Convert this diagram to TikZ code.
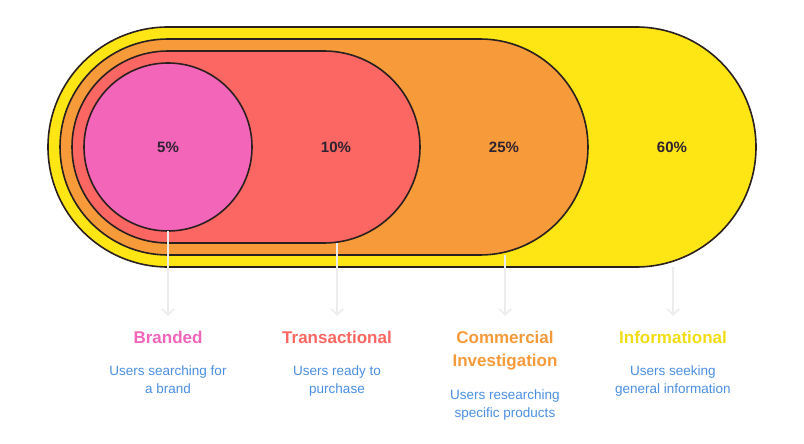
\documentclass[tikz,border=0pt]{standalone}
\usepackage{fontspec}
\setmainfont{Liberation Sans}
\usetikzlibrary{arrows.meta}
\definecolor{cy}{HTML}{FDE614}
\definecolor{co}{HTML}{F79A3A}
\definecolor{cr}{HTML}{FC6763}
\definecolor{cp}{HTML}{F265B9}
\definecolor{tdark}{HTML}{2E2230}
\definecolor{tblue}{HTML}{4A8FE2}
\definecolor{tyel}{HTML}{F2DC12}
\definecolor{ln}{HTML}{2B2020}
\begin{document}
\begin{tikzpicture}[x=1pt,y=-1pt,
  band/.style={draw=ln,line width=1.6pt,inner sep=0pt,outer sep=0pt},
  pct/.style={font=\fontsize{15}{18}\selectfont\bfseries,text=tdark},
  ttl/.style={font=\fontsize{17}{20}\selectfont\bfseries,align=center,anchor=north},
  dsc/.style={font=\fontsize{13.5}{18}\selectfont,text=tblue,align=center,anchor=north},
  pointer/.style={draw=black!7,line width=1.6pt,-{Straight Barb[length=6pt,width=12pt]}}]
\useasboundingbox (0,0) rectangle (804,444);
\node[band,fill=cy,minimum width=708pt,minimum height=240pt,rounded corners=120pt] (yel) at (402,147) {};
\node[band,fill=co,minimum width=528pt,minimum height=216pt,rounded corners=108pt] (ora) at (324,147) {};
\node[band,fill=cr,minimum width=348pt,minimum height=192pt,rounded corners=96pt] (red) at (246,147) {};
\node[band,fill=cp,circle,minimum size=168pt] (pin) at (168,147) {};
\node[pct] (p1) at (168,147) {5\%};
\node[pct] (p2) at (336,147) {10\%};
\node[pct] (p3) at (504,147) {25\%};
\node[pct] (p4) at (672,147) {60\%};
\coordinate (s2) at (337,243);
\coordinate (s3) at (505,255);
\coordinate (s4) at (673,267);
\coordinate (e1) at (168,316);
\coordinate (e2) at (337,316);
\coordinate (e3) at (505,316);
\coordinate (e4) at (673,316);
\draw[pointer] (pin.south) -- (e1);
\draw[pointer] (s2) -- (e2);
\draw[pointer] (s3) -- (e3);
\draw[pointer] (s4) -- (e4);
\node[ttl,text=cp] (t1) at (168,328) {Branded};
\node[ttl,text=cr] (t2) at (337,328) {Transactional};
\node[ttl,text=co,font=\fontsize{17}{23}\selectfont\bfseries] (t3) at (505,328) {Commercial\\Investigation};
\node[ttl,text=tyel] (t4) at (673,328) {Informational};
\node[dsc] (d1) at (168,362) {Users searching for\\a brand};
\node[dsc] (d2) at (337,362) {Users ready to\\purchase};
\node[dsc] (d3) at (505,386) {Users researching\\specific products};
\node[dsc] (d4) at (673,362) {Users seeking\\general information};
\end{tikzpicture}
\end{document}
